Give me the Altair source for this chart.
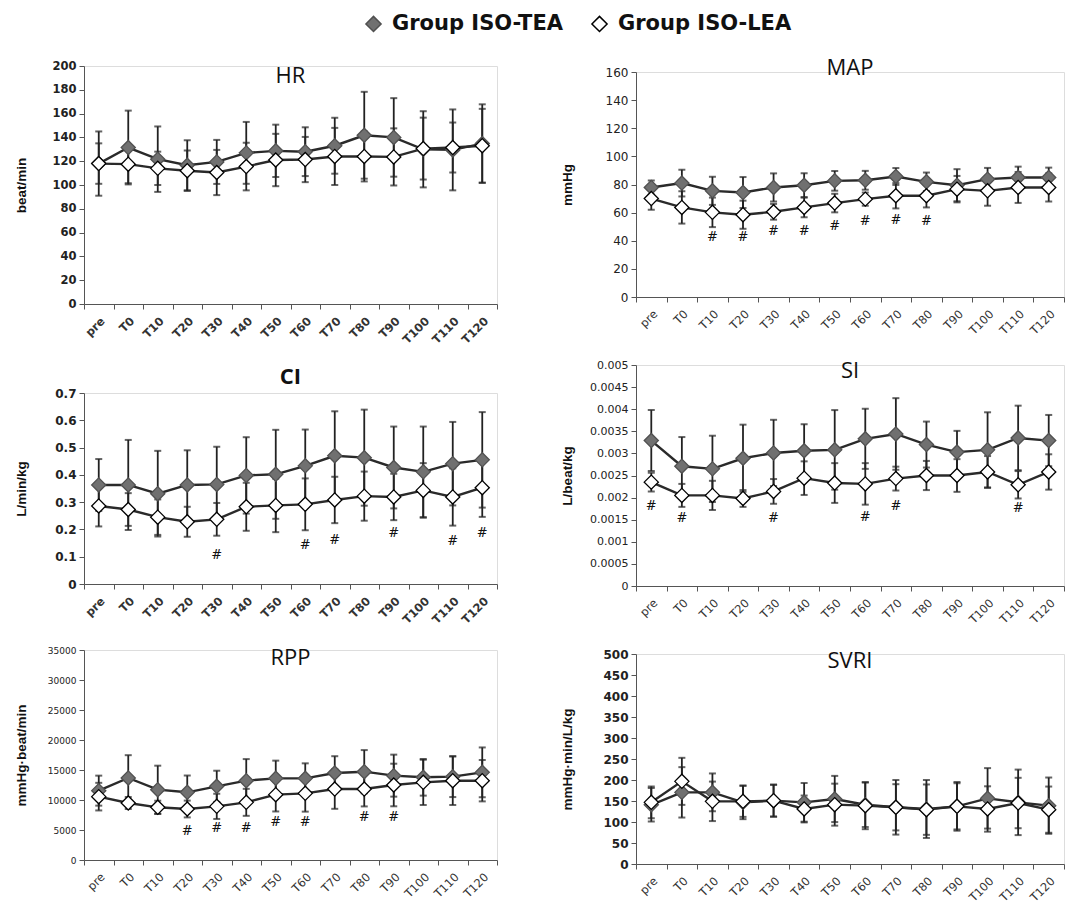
import altair as alt
import pandas as pd

cats = ["pre", "T0", "T10", "T20", "T30", "T40", "T50", "T60", "T70", "T80", "T90", "T100", "T110", "T120"]
groups = ["Group ISO-TEA", "Group ISO-LEA"]

# HR (beat/min)
hr_tea = [118, 131.5, 121.7, 116.6, 119.4, 127, 128.7, 128, 133, 141.8, 140, 130, 129.5, 134.8]
hr_tea_sd = [27, 31, 27.5, 21, 18.5, 26, 22, 20.5, 23.5, 36.5, 33, 32, 34, 33]
hr_lea = [118, 117.5, 114, 112, 110.5, 115.5, 121, 121.4, 124, 124, 123.6, 130.6, 131.5, 133]
hr_lea_sd = [17, 16, 14, 17, 19, 20, 22, 19, 24, 21, 24, 26, 21, 31]
hr_hash = [None] * 14

# MAP (mmHg)
map_tea = [77.9, 81, 75.5, 74.3, 77.9, 79.5, 82.6, 83, 85.7, 81.9, 79.5, 83.8, 85, 85]
map_tea_sd = [5, 9.5, 10, 11, 10, 8.5, 7, 6.7, 6, 6.6, 11.4, 8, 7.7, 7]
map_lea = [70, 63.7, 60.2, 58.5, 60.6, 63.7, 66.8, 69.6, 72, 72, 76.7, 75.5, 77.9, 77.9]
map_lea_sd = [8, 11.5, 10.5, 10, 5.6, 7, 6.6, 4.7, 9, 8.3, 9.4, 10.6, 11, 10]
map_hash = [None, None, 42.5, 42.5, 46.7, 46.7, 50.7, 54.3, 55, 54.3, None, None, None, None]

# CI (L/min/kg)
ci_tea = [0.363, 0.363, 0.331, 0.363, 0.365, 0.398, 0.402, 0.433, 0.470, 0.463, 0.427, 0.411, 0.441, 0.455]
ci_tea_sd = [0.095, 0.165, 0.157, 0.127, 0.138, 0.14, 0.163, 0.133, 0.163, 0.176, 0.15, 0.166, 0.153, 0.175]
ci_lea = [0.286, 0.273, 0.245, 0.228, 0.237, 0.283, 0.288, 0.292, 0.308, 0.322, 0.319, 0.343, 0.319, 0.353]
ci_lea_sd = [0.075, 0.06, 0.065, 0.055, 0.06, 0.088, 0.098, 0.095, 0.085, 0.09, 0.085, 0.1, 0.105, 0.107]
ci_hash = [None, None, None, None, 0.108, None, None, 0.142, 0.161, None, 0.188, None, 0.157, 0.188]

# SI (L/beat/kg)
si_tea = [0.00329, 0.00271, 0.00265, 0.00289, 0.00301, 0.00306, 0.00308, 0.00333, 0.00344, 0.00320, 0.00303, 0.00308, 0.00335, 0.00329]
si_tea_sd = [0.00069, 0.00066, 0.00075, 0.00076, 0.00075, 0.0006, 0.0009, 0.00068, 0.00081, 0.00052, 0.00048, 0.00085, 0.00073, 0.00058]
si_lea = [0.00235, 0.00205, 0.00205, 0.00198, 0.00214, 0.00244, 0.00233, 0.00231, 0.00243, 0.00250, 0.00250, 0.00258, 0.00229, 0.00258]
si_lea_sd = [0.00021, 0.00026, 0.00033, 0.00019, 0.00028, 0.00038, 0.00045, 0.00047, 0.00027, 0.00033, 0.00037, 0.00036, 0.00031, 0.0004]
si_hash = [0.0018, 0.00154, None, None, 0.00154, None, None, 0.00156, 0.0018, None, None, None, 0.00177, None]

# RPP (mmHg·beat/min)
rpp_tea = [11560, 13670, 11720, 11280, 12280, 13220, 13610, 13610, 14500, 14720, 14060, 13780, 13890, 14610]
rpp_tea_sd = [2500, 3800, 4000, 2800, 2600, 3600, 2950, 2500, 2800, 3600, 3500, 3050, 3400, 4150]
rpp_lea = [10560, 9500, 8780, 8500, 8940, 9610, 10890, 11110, 11830, 11830, 12500, 12940, 13220, 13220]
rpp_lea_sd = [2300, 1000, 1100, 1400, 2100, 2250, 2800, 3050, 3300, 2900, 3550, 3770, 4050, 3450]
rpp_hash = [None, None, None, 4780, 5330, 5330, 6390, 6390, None, 7110, 7110, None, None, None]

# SVRI (mmHg·min/L/kg)
svri_tea = [141, 170.6, 170.6, 146.8, 150.8, 146.8, 154.8, 141, 135, 131, 137.3, 156.3, 146.8, 138.9]
svri_tea_sd = [40, 60, 45, 40, 38, 46, 55, 53, 55, 69, 55, 72, 78, 67]
svri_lea = [146.8, 196.8, 149.2, 149.2, 150.8, 131, 141.3, 138.9, 135, 129.4, 137.3, 131, 145.2, 129.4]
svri_lea_sd = [38, 56, 47, 37, 38, 32, 50, 56, 65, 60, 58, 54, 60, 55]
svri_hash = [None] * 14

INK = "#222222"
AX = "#555555"


def panel(title, ytitle, tea, tea_sd, lea, lea_sd, hashes, ymax, ystep, fmt,
          width, height, title_offset, title_weight, label_size, label_weight,
          extent, title_pad, xlabel_weight):
    rows = []
    for g, m, s in ((groups[0], tea, tea_sd), (groups[1], lea, lea_sd)):
        for c, mv, sv in zip(cats, m, s):
            rows.append({"cat": c, "group": g, "mean": mv, "lo": mv - sv, "hi": mv + sv})
    df = pd.DataFrame(rows)
    hdf = pd.DataFrame([{"cat": c, "y": h} for c, h in zip(cats, hashes) if h is not None])

    n = int(round(ymax / ystep))
    ticks = [round(i * ystep, 6) for i in range(n + 1)]
    yscale = alt.Scale(domain=[0, ymax], nice=False, zero=True)
    yaxis = alt.Axis(title=ytitle, values=ticks, format=fmt, grid=False,
                     domainColor=AX, tickColor=AX, tickSize=5, labelColor=INK,
                     labelFontSize=label_size, labelFontWeight=label_weight,
                     labelFont="DejaVu Sans", titleFont="Liberation Sans",
                     titleFontSize=13.5, titleFontWeight="bold", titleColor="#111",
                     titlePadding=title_pad, minExtent=extent, maxExtent=extent,
                     labelPadding=3)
    xenc = alt.X("cat:N", sort=cats,
                 scale=alt.Scale(type="band", paddingInner=0, paddingOuter=0),
                 axis=alt.Axis(title=None, labelAngle=-45, tickBand="extent",
                               domainColor=AX, tickColor=AX, tickSize=5,
                               labelFontSize=11.5, labelColor="#333", labelPadding=6,
                               labelFont="DejaVu Sans", labelFontWeight=xlabel_weight))

    def Y(f):
        return alt.Y(f, scale=yscale, axis=yaxis)

    base = alt.Chart(df).encode(x=xenc)
    rules = base.mark_rule(color=INK, strokeWidth=1.8).encode(y=Y("lo:Q"), y2="hi:Q")
    cap_lo = base.mark_tick(color=INK, thickness=2, size=7).encode(y=Y("lo:Q"))
    cap_hi = base.mark_tick(color=INK, thickness=2, size=7).encode(y=Y("hi:Q"))
    line = base.mark_line(color="#2a2a2a", strokeWidth=2.4).encode(y=Y("mean:Q"), detail="group:N")
    leg = alt.Legend(title=None, orient="none", legendX=279, legendY=-53,
                     direction="horizontal", symbolType="diamond", symbolSize=230,
                     symbolStrokeWidth=1.5, labelFontSize=21, labelFontWeight="bold",
                     labelFont="DejaVu Sans", labelColor="#111", columnPadding=24,
                     labelOffset=8, labelLimit=400)
    pts = base.mark_point(shape="diamond", size=200, filled=True, opacity=1,
                          strokeWidth=1.3).encode(
        y=Y("mean:Q"),
        fill=alt.Fill("group:N", scale=alt.Scale(domain=groups, range=["#707070", "#ffffff"]), legend=leg),
        stroke=alt.Stroke("group:N", scale=alt.Scale(domain=groups, range=["#505050", "#000000"]), legend=leg),
    )
    layers = [rules, cap_lo, cap_hi, line, pts]
    if len(hdf):
        hs = alt.Chart(hdf).mark_text(text="#", fontSize=13, font="DejaVu Serif",
                                      color="#111", baseline="middle").encode(
            x=alt.X("cat:N", sort=cats), y=Y("y:Q"))
        layers.append(hs)
    return alt.layer(*layers).properties(
        width=width, height=height,
        title=alt.TitleParams(title, fontSize=22, fontWeight=title_weight,
                              font="Open Sans", color="#111", offset=title_offset,
                              frame="group", anchor="middle"))


LW, RW = 413, 428
hr = panel("HR", "beat/min", hr_tea, hr_tea_sd, hr_lea, hr_lea_sd, hr_hash,
           200, 20, "d", LW, 238, -28, "normal", 11.5, "bold", 42, 14, "bold")
mp = panel("MAP", "mmHg", map_tea, map_tea_sd, map_lea, map_lea_sd, map_hash,
           160, 20, "d", RW, 225, -14, "normal", 12, "normal", 48, 14, "normal")
ci = panel("CI", "L/min/kg", ci_tea, ci_tea_sd, ci_lea, ci_lea_sd, ci_hash,
           0.7, 0.1, "~g", LW, 191, -2, "bold", 12, "bold", 42, 14, "bold")
si = panel("SI", "L/beat/kg", si_tea, si_tea_sd, si_lea, si_lea_sd, si_hash,
           0.005, 0.0005, "~g", RW, 221, -24, "normal", 11, "normal", 48, 14, "normal")
rpp = panel("RPP", "mmHg·beat/min", rpp_tea, rpp_tea_sd, rpp_lea, rpp_lea_sd, rpp_hash,
            35000, 5000, "d", LW, 210, -24, "normal", 9, "normal", 42, 14, "normal")
svri = panel("SVRI", "mmHg·min/L/kg", svri_tea, svri_tea_sd, svri_lea, svri_lea_sd, svri_hash,
             500, 50, "d", RW, 210, -25, "normal", 12, "bold", 48, 14, "normal")

# invisible spacer that lowers the right-hand column a little
spacer = alt.Chart(pd.DataFrame({"v": [0]})).mark_text(text="").properties(width=10, height=1)

left = alt.vconcat(hr, ci, rpp, spacing=18).resolve_scale(fill="shared", stroke="shared")
right_panels = alt.vconcat(mp, si, svri, spacing=20).resolve_scale(fill="shared", stroke="shared")
right = alt.vconcat(spacer, right_panels, spacing=-16).resolve_scale(fill="shared", stroke="shared")

chart = alt.hconcat(left, right, spacing=61).resolve_scale(
    fill="shared", stroke="shared"
).configure_view(stroke=None).configure(background="white")

chart.save("out.html", embed_options={"renderer": "svg", "actions": False})
